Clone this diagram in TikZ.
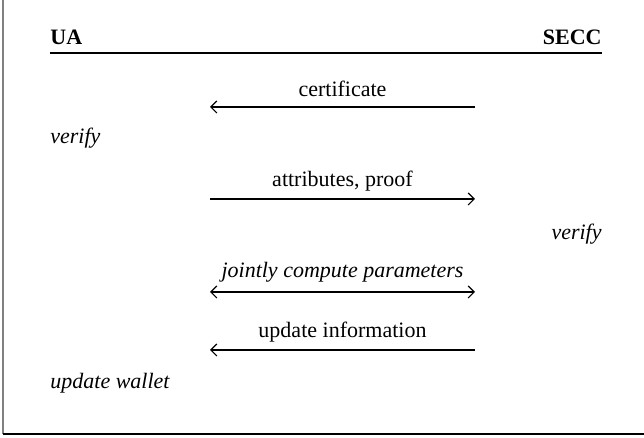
\documentclass[tikz,border=0pt]{standalone}
\usepackage{fontspec}
\setmainfont{Liberation Serif}
\usetikzlibrary{arrows.meta}
\begin{document}
\begin{tikzpicture}[x=0.5pt,y=-0.5pt,
  lbl/.style={anchor=base,inner sep=0pt,font=\fontsize{11}{13}\selectfont},
  msg/.style={line width=0.6pt},
  tip/.style={-{Straight Barb[length=3pt,width=6pt]}},
  frameline/.style={line width=0.8pt}]
\useasboundingbox (0,0) rectangle (644,438);
% frame (left and bottom visible)
\coordinate (ftop) at (3,0);
\coordinate (fcorner) at (3,434);
\coordinate (fright) at (644,434);
\draw[frameline,gray] (ftop) -- (fcorner);
\draw[frameline] (fcorner) -- (fright);
% headers
\node[lbl,anchor=base west,font=\fontsize{11}{13}\selectfont\bfseries] (ua) at (50,45) {UA};
\node[lbl,anchor=base east,font=\fontsize{11}{13}\selectfont\bfseries] (secc) at (602,45) {SECC};
\coordinate (hl) at (50,53);
\coordinate (hr) at (602,53);
\draw[msg] (hl) -- (hr);
% message 1
\coordinate (a1l) at (210,107);
\coordinate (a1r) at (475,107);
\draw[msg,tip] (a1r) -- (a1l);
\node[lbl] (t1) at (342.5,97) {certificate};
% verify left
\node[lbl,anchor=base west] (v1) at (50,144) {\itshape verify};
% message 2
\coordinate (a2l) at (210,199);
\coordinate (a2r) at (475,199);
\draw[msg,tip] (a2l) -- (a2r);
\node[lbl] (t2) at (342.5,187) {attributes, proof};
% verify right
\node[lbl,anchor=base east] (v2) at (602,240) {\itshape verify};
% message 3
\coordinate (a3l) at (210,292);
\coordinate (a3r) at (475,292);
\draw[msg,{Straight Barb[length=3pt,width=6pt]}-{Straight Barb[length=3pt,width=6pt]}] (a3l) -- (a3r);
\node[lbl] (t3) at (342.5,278) {\itshape jointly compute parameters};
% message 4
\coordinate (a4l) at (210,350);
\coordinate (a4r) at (475,350);
\draw[msg,tip] (a4r) -- (a4l);
\node[lbl] (t4) at (342.5,338) {update information};
% update wallet
\node[lbl,anchor=base west] (w) at (50,389) {\itshape update wallet};
\end{tikzpicture}
\end{document}
